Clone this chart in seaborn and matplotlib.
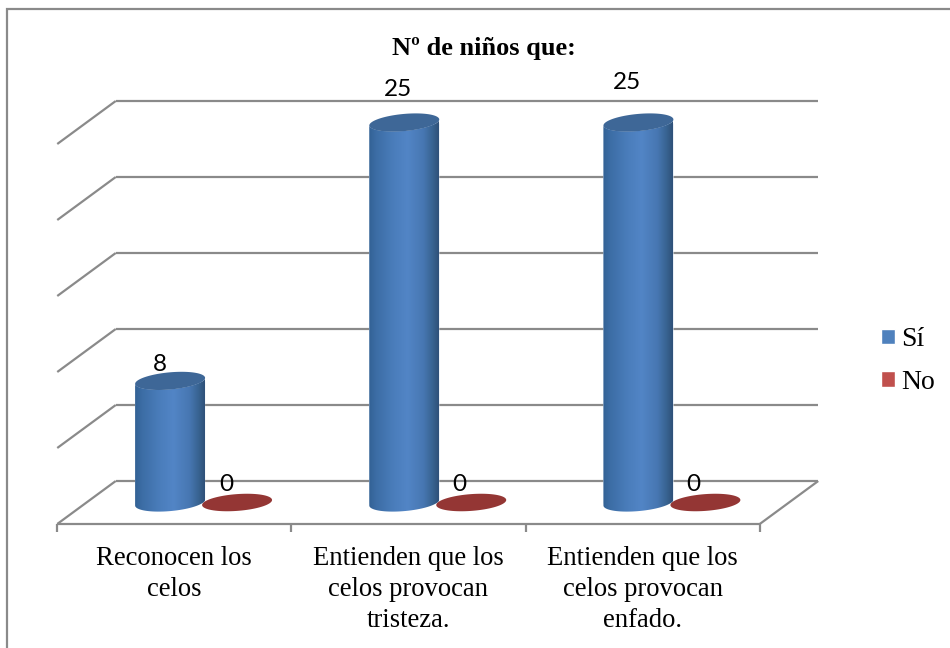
import matplotlib
matplotlib.use("Agg")
import matplotlib.pyplot as plt
import numpy as np
import pandas as pd
import seaborn as sns
from matplotlib.colors import LinearSegmentedColormap
from matplotlib.patches import PathPatch, Rectangle
from matplotlib.path import Path
from matplotlib.transforms import Affine2D

categorias = ["Reconocen los\ncelos",
              "Entienden que los\ncelos provocan\ntristeza.",
              "Entienden que los\ncelos provocan\nenfado."]
valores_si = [8, 25, 25]
valores_no = [0, 0, 0]
niveles = [0, 5, 10, 15, 20, 25]

AZUL = "#4F81BD"
ROJO = "#C0504D"
TAPA_AZUL = "#3E6797"
TAPA_ROJA = "#943634"
GRIS = "#8A8A8A"

W, H = 950, 648


def elipse(cx, cy, a, b, s, t):
    # ellipse sheared so the right side sits higher, like the 3D view
    return cx + a * np.cos(t), cy + b * np.sin(t) + s * np.cos(t)


def dibuja_cilindro(ax, bar, cmap):
    cx = bar.get_x() + bar.get_width() / 2
    a = bar.get_width() / 2
    top = bar.get_height()
    b = 8.6 / PX_Y
    s = 3.0 / PX_Y

    t = np.linspace(np.pi, 2 * np.pi, 40)
    xb, yb = elipse(cx, 0, a, b, s, t)
    xt, yt = elipse(cx, top, a, b, s, t[::-1])
    verts = np.column_stack([np.r_[xb, xt], np.r_[yb, yt]])
    body = PathPatch(Path(np.vstack([verts, verts[0]]), closed=True),
                     transform=ax.transData, fc="none", ec="none")
    ax.add_patch(body)
    body.set_clip_on(False)
    bar.set_clip_path(body)
    bar.set_clip_box(fig.bbox)

    img = ax.imshow(np.linspace(0, 1, 200)[None, :], cmap=cmap, aspect="auto",
                    extent=(cx - a, cx + a, -2 * b, top + 2 * b), zorder=3)
    img.set_clip_path(body)
    img.set_clip_box(fig.bbox)

    tt = np.linspace(0, 2 * np.pi, 80)
    xc, yc = elipse(cx, top, a, b, s, tt)
    ax.fill(xc, yc, color=TAPA_AZUL, lw=0, zorder=4, clip_on=False)


def dibuja_plano(ax, bar):
    cx = bar.get_x() + bar.get_width() / 2
    tt = np.linspace(0, 2 * np.pi, 80)
    xc, yc = elipse(cx, bar.get_height(), bar.get_width() / 2,
                    8.4 / PX_Y, 2.5 / PX_Y, tt)
    ax.fill(xc, yc, color=TAPA_ROJA, lw=0, zorder=5, clip_on=False)


sns.set_style("white")
plt.rcParams["font.family"] = ["Liberation Serif", "DejaVu Serif"]
plt.rcParams["text.color"] = "black"
plt.rcParams["xtick.labelcolor"] = "black"

df = pd.DataFrame({
    "categoria": categorias * 2,
    "valor": valores_si + valores_no,
    "respuesta": ["Sí"] * 3 + ["No"] * 3,
})

fig = plt.figure(figsize=(W / 100, H / 100), dpi=100)

# axes sit at the middle depth of the fake 3D box
left, right, base, alto = 86.5, 789.0, 502.5, 456.0
PX_Y = 15.2
ax = fig.add_axes([left / W, (H - base) / H, (right - left) / W, alto / H])
ax.patch.set_alpha(0)

sns.barplot(data=df, x="categoria", y="valor", hue="respuesta",
            palette=[AZUL, ROJO], width=0.572, gap=-0.045, saturation=1,
            ax=ax, zorder=2)
ax.set_xlim(-0.5, 2.5)
ax.set_ylim(0, alto / PX_Y)
ax.set_xlabel("")
ax.set_ylabel("")
ax.set_yticks([])
sns.despine(ax=ax, left=True, bottom=True)

# box lines
atras = ax.transData + Affine2D().translate(29.25, 21.5)
frente = ax.transData + Affine2D().translate(-29.25, -21.5)
estilo = dict(color=GRIS, lw=1.6, clip_on=False, zorder=1,
              solid_capstyle="butt")
for v in niveles:
    ax.plot([-0.5, 2.5], [v, v], transform=atras, **estilo)
    p0 = frente.transform((-0.5, v))
    p1 = atras.transform((-0.5, v))
    ax.plot([p0[0], p1[0]], [p0[1], p1[1]], transform=None, **estilo)
ax.plot([-0.5, 2.5], [0, 0], transform=frente, **estilo)
p0 = frente.transform((2.5, 0))
p1 = atras.transform((2.5, 0))
ax.plot([p0[0], p1[0]], [p0[1], p1[1]], transform=None, **estilo)
for x in [-0.5, 0.5, 1.5, 2.5]:
    p0 = frente.transform((x, 0))
    ax.plot([p0[0], p0[0]], [p0[1], p0[1] - 8], transform=None, **estilo)

# cylinders over the seaborn bars
degradado = LinearSegmentedColormap.from_list(
    "cilindro",
    [(0, "#336295"), (0.1, "#3C6DA5"), (0.35, "#4A7DBB"), (0.55, "#5285C6"),
     (0.78, "#4777B2"), (0.92, "#37628F"), (1, "#2F5179")])
for bar in ax.containers[0]:
    dibuja_cilindro(ax, bar, degradado)
for bar in ax.containers[1]:
    dibuja_plano(ax, bar)
ax.set_xlim(-0.5, 2.5)
ax.set_ylim(0, alto / PX_Y)

# data labels
desplaza_si = [(-10, 16), (-6, 33), (-11, 40)]
desplaza_no = [(-11, 18), (-12, 18), (-12, 18)]
for cont, desp in zip(ax.containers, [desplaza_si, desplaza_no]):
    for bar, d in zip(cont, desp):
        ax.annotate(f"{bar.get_height():.0f}",
                    (bar.get_x() + bar.get_width() / 2, bar.get_height()),
                    xytext=(d[0] * 0.72, d[1] * 0.72), textcoords="offset points",
                    ha="center", va="center", fontsize=17.5, family="Lato",
                    color="black", zorder=6, annotation_clip=False)

# category labels are centred under the front edge
ax.set_xticks([0, 1, 2], categorias)
ax.tick_params(axis="x", length=0, pad=31, labelsize=19.2)
for lab in ax.get_xticklabels():
    lab.set_transform(lab.get_transform() + Affine2D().translate(-29.25, 0))
    lab.set_linespacing(1.33)

fig.text(484 / W, 1 - 49 / H, "Nº de niños que:", ha="center", va="center",
         fontsize=19, fontweight="bold", family="Liberation Serif")

handles, labels = ax.get_legend_handles_labels()
ax.legend(handles, labels, loc="center left", frameon=False, fontsize=20,
          bbox_to_anchor=(880 / W, 1 - 361 / H), bbox_transform=fig.transFigure,
          handlelength=0.5, handleheight=0.5, handletextpad=0.22,
          labelspacing=0.62, borderpad=0.05, borderaxespad=0)

# chart frame, only top and left fall inside the picture
fig.add_artist(Rectangle((7 / W, -0.05), 1.05, 1.05 - 9.5 / H,
                         transform=fig.transFigure, fc="none", ec=GRIS, lw=1.6))

fig.savefig("out.png", dpi=100)
